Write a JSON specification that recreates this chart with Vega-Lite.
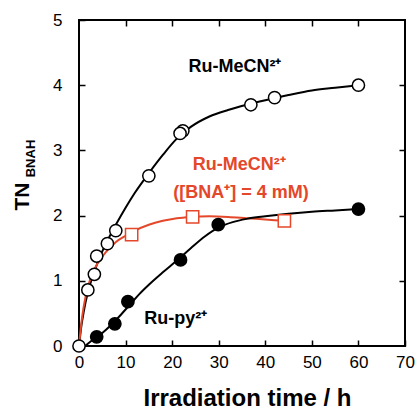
{
  "$schema": "https://vega.github.io/schema/vega-lite/v6.json",
  "width": 326,
  "height": 326,
  "autosize": {"type": "none"},
  "padding": {"left": 79, "top": 20, "right": 11, "bottom": 64},
  "background": "white",
  "config": {
    "view": {"stroke": "black", "strokeWidth": 2},
    "font": "Liberation Sans",
    "axis": {
      "grid": false,
      "domain": false,
      "tickColor": "black",
      "tickWidth": 1.5,
      "tickSize": -6,
      "labelFlush": false,
      "labelOverlap": false,
      "labelColor": "black",
      "labelFontSize": 17,
      "labelFont": "Liberation Sans",
      "titleColor": "black",
      "titleFont": "Liberation Sans",
      "titleFontWeight": "bold"
    }
  },
  "datasets": {
    "curves": [
      {"s": "MeCN", "t": 0, "v": 0}, {"s": "MeCN", "t": 0.5, "v": 0.3}, {"s": "MeCN", "t": 1, "v": 0.52}, {"s": "MeCN", "t": 2, "v": 0.85}, {"s": "MeCN", "t": 3, "v": 1.08}, {"s": "MeCN", "t": 4, "v": 1.28}, {"s": "MeCN", "t": 5, "v": 1.45}, {"s": "MeCN", "t": 6, "v": 1.6}, {"s": "MeCN", "t": 8, "v": 1.87}, {"s": "MeCN", "t": 10, "v": 2.12}, {"s": "MeCN", "t": 12, "v": 2.35}, {"s": "MeCN", "t": 15, "v": 2.65}, {"s": "MeCN", "t": 18, "v": 2.93}, {"s": "MeCN", "t": 21, "v": 3.18}, {"s": "MeCN", "t": 24, "v": 3.36}, {"s": "MeCN", "t": 28, "v": 3.52}, {"s": "MeCN", "t": 32, "v": 3.62}, {"s": "MeCN", "t": 36, "v": 3.7}, {"s": "MeCN", "t": 40, "v": 3.77}, {"s": "MeCN", "t": 45, "v": 3.85}, {"s": "MeCN", "t": 50, "v": 3.92}, {"s": "MeCN", "t": 55, "v": 3.96}, {"s": "MeCN", "t": 60, "v": 4.0},
      {"s": "BNA", "t": 0, "v": 0}, {"s": "BNA", "t": 0.5, "v": 0.35}, {"s": "BNA", "t": 1, "v": 0.6}, {"s": "BNA", "t": 2, "v": 0.93}, {"s": "BNA", "t": 3, "v": 1.13}, {"s": "BNA", "t": 4, "v": 1.27}, {"s": "BNA", "t": 6, "v": 1.46}, {"s": "BNA", "t": 8, "v": 1.6}, {"s": "BNA", "t": 10, "v": 1.69}, {"s": "BNA", "t": 12, "v": 1.77}, {"s": "BNA", "t": 15, "v": 1.86}, {"s": "BNA", "t": 18, "v": 1.92}, {"s": "BNA", "t": 21, "v": 1.96}, {"s": "BNA", "t": 24, "v": 1.98}, {"s": "BNA", "t": 28, "v": 1.99}, {"s": "BNA", "t": 32, "v": 1.98}, {"s": "BNA", "t": 36, "v": 1.96}, {"s": "BNA", "t": 40, "v": 1.94}, {"s": "BNA", "t": 44, "v": 1.92},
      {"s": "py", "t": 1.3, "v": 0}, {"s": "py", "t": 3, "v": 0.1}, {"s": "py", "t": 5, "v": 0.2}, {"s": "py", "t": 7, "v": 0.33}, {"s": "py", "t": 9, "v": 0.48}, {"s": "py", "t": 11, "v": 0.64}, {"s": "py", "t": 13, "v": 0.8}, {"s": "py", "t": 15, "v": 0.94}, {"s": "py", "t": 18, "v": 1.13}, {"s": "py", "t": 21, "v": 1.31}, {"s": "py", "t": 24, "v": 1.5}, {"s": "py", "t": 27, "v": 1.68}, {"s": "py", "t": 30, "v": 1.82}, {"s": "py", "t": 33, "v": 1.9}, {"s": "py", "t": 36, "v": 1.95}, {"s": "py", "t": 40, "v": 1.99}, {"s": "py", "t": 45, "v": 2.03}, {"s": "py", "t": 50, "v": 2.06}, {"s": "py", "t": 55, "v": 2.08}, {"s": "py", "t": 60, "v": 2.1}
    ],
    "points": [
      {"s": "MeCN", "t": 0, "v": 0}, {"s": "MeCN", "t": 1.9, "v": 0.86}, {"s": "MeCN", "t": 3.3, "v": 1.1}, {"s": "MeCN", "t": 3.8, "v": 1.38}, {"s": "MeCN", "t": 6.1, "v": 1.57}, {"s": "MeCN", "t": 7.9, "v": 1.77}, {"s": "MeCN", "t": 15, "v": 2.61}, {"s": "MeCN", "t": 22.3, "v": 3.3}, {"s": "MeCN", "t": 21.7, "v": 3.26}, {"s": "MeCN", "t": 36.9, "v": 3.7}, {"s": "MeCN", "t": 42, "v": 3.81}, {"s": "MeCN", "t": 60, "v": 4.0},
      {"s": "py", "t": 3.8, "v": 0.14}, {"s": "py", "t": 7.7, "v": 0.34}, {"s": "py", "t": 10.5, "v": 0.68}, {"s": "py", "t": 21.8, "v": 1.32}, {"s": "py", "t": 29.9, "v": 1.86}, {"s": "py", "t": 60, "v": 2.1},
      {"s": "BNA", "t": 11.3, "v": 1.71}, {"s": "BNA", "t": 24.4, "v": 1.98}, {"s": "BNA", "t": 44.1, "v": 1.92}
    ],
    "labels": [
      {"s": "MeCN", "label": "Ru-MeCN²⁺", "t": 33.5, "v": 4.28},
      {"s": "BNA", "label": "Ru-MeCN²⁺", "t": 34.4, "v": 2.78},
      {"s": "BNA", "label": "([BNA⁺] = 4 mM)", "t": 34.8, "v": 2.35},
      {"s": "py", "label": "Ru-py²⁺", "t": 20.8, "v": 0.41}
    ],
    "sub": [{"label": "BNAH", "t": -10.2, "v": 2.876}]
  },
  "layer": [
    {
      "data": {"name": "curves"},
      "mark": {"type": "line", "interpolate": "monotone", "strokeWidth": 2},
      "encoding": {
        "x": {"field": "t", "type": "quantitative", "scale": {"domain": [0, 70], "nice": false},
          "axis": {"orient": "bottom", "values": [0, 10, 20, 30, 40, 50, 60, 70], "labelPadding": 14, "title": "Irradiation time / h", "titleFontSize": 24, "titleX": 168, "titleY": 59, "titleBaseline": "alphabetic", "titleAlign": "center"}},
        "y": {"field": "v", "type": "quantitative", "scale": {"domain": [0, 5], "nice": false},
          "axis": {"orient": "left", "values": [0, 1, 2, 3, 4, 5], "labelPadding": 23, "title": "TN", "titleFontSize": 21, "titleAngle": 270, "titleX": -57, "titleY": 176, "titleAlign": "center", "titleBaseline": "middle"}},
        "color": {"field": "s", "type": "nominal", "scale": {"domain": ["MeCN", "BNA", "py"], "range": ["black", "#e4472a", "black"]}, "legend": null},
        "strokeWidth": {"field": "s", "type": "nominal", "scale": {"domain": ["MeCN", "BNA", "py"], "range": [2, 1.6, 2]}, "legend": null}
      }
    },
    {
      "data": {"name": "points"},
      "mark": {"type": "point", "filled": true, "strokeWidth": 1.5, "opacity": 1, "size": 150},
      "encoding": {
        "x": {"field": "t", "type": "quantitative", "axis": {"orient": "top", "values": [10, 20, 30, 40, 50, 60], "labels": false, "title": null}},
        "y": {"field": "v", "type": "quantitative", "axis": {"orient": "right", "values": [1, 2, 3, 4], "labels": false, "title": null}},
        "shape": {"field": "s", "type": "nominal", "scale": {"domain": ["MeCN", "BNA", "py"], "range": ["circle", "square", "circle"]}, "legend": null},
        "fill": {"field": "s", "type": "nominal", "scale": {"domain": ["MeCN", "BNA", "py"], "range": ["white", "white", "black"]}, "legend": null},
        "stroke": {"field": "s", "type": "nominal", "scale": {"domain": ["MeCN", "BNA", "py"], "range": ["black", "#e4472a", "black"]}, "legend": null}
      }
    },
    {
      "data": {"name": "labels"},
      "mark": {"type": "text", "fontSize": 18, "fontWeight": "bold", "align": "center", "baseline": "middle", "font": "Liberation Sans"},
      "encoding": {
        "x": {"field": "t", "type": "quantitative", "axis": null},
        "y": {"field": "v", "type": "quantitative", "axis": null},
        "text": {"field": "label"},
        "color": {"field": "s", "type": "nominal", "legend": null}
      }
    },
    {
      "data": {"name": "sub"},
      "mark": {"type": "text", "fontSize": 13, "fontWeight": "bold", "align": "center", "baseline": "middle", "angle": 270, "color": "black", "font": "Liberation Sans"},
      "encoding": {
        "x": {"field": "t", "type": "quantitative", "axis": null},
        "y": {"field": "v", "type": "quantitative", "axis": null},
        "text": {"field": "label"}
      }
    }
  ],
  "resolve": {"axis": {"x": "independent", "y": "independent"}}
}
